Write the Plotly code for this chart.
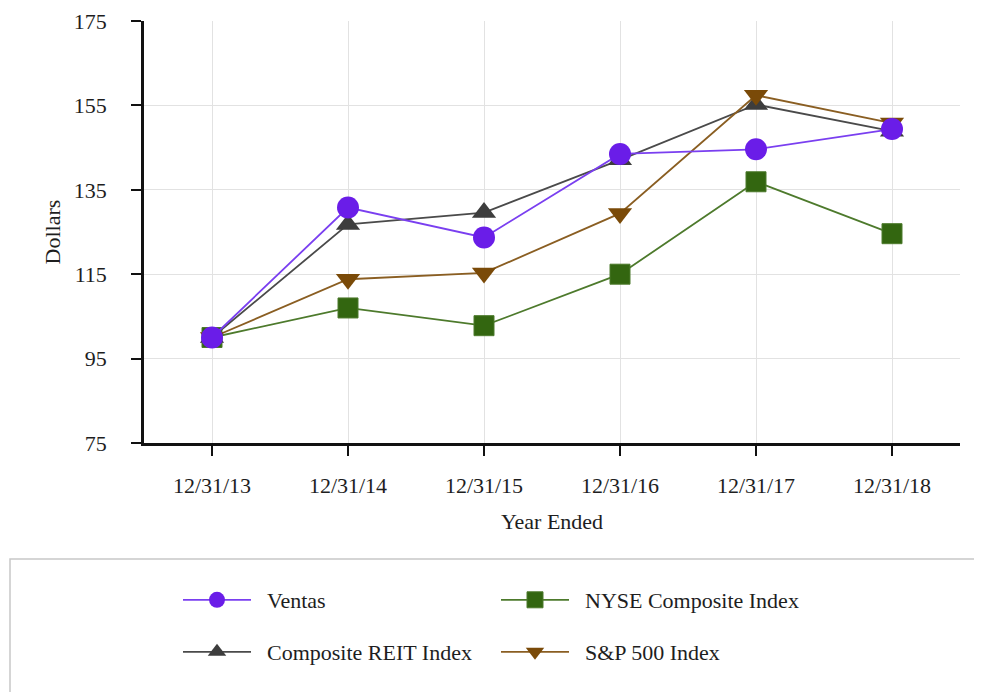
import plotly.graph_objects as go

years = ["12/31/13", "12/31/14", "12/31/15", "12/31/16", "12/31/17", "12/31/18"]
ventas = [100, 130.8, 123.7, 143.5, 144.6, 149.4]
nyse = [100, 107.0, 102.8, 115.0, 136.9, 124.6]
reit = [100, 126.8, 129.6, 142.1, 155.2, 148.9]
sp500 = [100, 113.8, 115.3, 129.4, 157.4, 150.8]
y_ticks = [75, 95, 115, 135, 155, 175]

FONT = "Liberation Serif"
FS = 22
NB = "\u00a0\u00a0"

fig = go.Figure()

fig.add_trace(go.Scatter(
    x=years, y=nyse, name=NB + "NYSE Composite Index", mode="lines+markers",
    line=dict(color="#4d7a2c", width=1.8),
    marker=dict(symbol="square", size=20, color="#336610", line=dict(color="#4d7a2c", width=1)),
    legend="legend", legendrank=2,
))
fig.add_trace(go.Scatter(
    x=years, y=reit, name=NB + "Composite REIT Index", mode="lines+markers",
    line=dict(color="#4a4a4a", width=1.8),
    marker=dict(symbol="triangle-up", size=21, color="#3d3d3d"),
    legend="legend2", legendrank=1,
))
fig.add_trace(go.Scatter(
    x=years, y=sp500, name=NB + "S&P 500 Index", mode="lines+markers",
    line=dict(color="#8a5e22", width=1.8),
    marker=dict(symbol="triangle-down", size=21, color="#7a4a08"),
    legend="legend2", legendrank=2,
))
fig.add_trace(go.Scatter(
    x=years, y=ventas, name=NB + "Ventas", mode="lines+markers",
    line=dict(color="#7a3ff0", width=1.8),
    marker=dict(symbol="circle", size=22, color="#6a1de8"),
    legend="legend", legendrank=1,
))

W, H = 982, 692
L, T = 136, 13
pw, ph = 816, 422
R, B = W - L - pw, H - T - ph

def px(x):
    return (x - L) / pw

def py(y):
    return (T + ph - y) / ph

fig.add_shape(type="rect", xref="paper", yref="paper",
              x0=px(2), x1=px(990), y0=py(551), y1=py(705),
              line=dict(color="#c8c8c8", width=1.5), fillcolor="rgba(0,0,0,0)", layer="below")

legend_common = dict(
    orientation="h", xanchor="left", yanchor="middle",
    font=dict(family=FONT, size=FS, color="#1e1e1e"),
    entrywidth=235, entrywidthmode="pixels",
    bgcolor="rgba(0,0,0,0)", itemwidth=68,
    traceorder="normal",
)

fig.update_layout(
    width=W, height=H,
    margin=dict(l=L, r=R, t=T, b=B, autoexpand=False),
    paper_bgcolor="white", plot_bgcolor="white",
    font=dict(family=FONT, size=FS, color="#1e1e1e"),
    showlegend=True,
    legend=dict(x=px(170), y=py(592), **legend_common),
    legend2=dict(x=px(170), y=py(644), **legend_common),
    xaxis=dict(
        type="category", range=[-0.5, 5.5], automargin=False,
        showline=True, linecolor="#111111", linewidth=2.5,
        showgrid=True, gridcolor="#e2e2e2", gridwidth=1,
        ticks="outside", ticklen=10, tickcolor="#111111", tickwidth=1.5,
        ticklabelstandoff=11, ticklabeloverflow="allow",
        title=dict(text="Year Ended", font=dict(family=FONT, size=FS), standoff=17),
        zeroline=False,
    ),
    yaxis=dict(
        range=[75, 175], tickvals=y_ticks, automargin=False,
        showline=True, linecolor="#111111", linewidth=2.5,
        showgrid=True, gridcolor="#e2e2e2", gridwidth=1,
        ticks="outside", ticklen=10, tickcolor="#111111", tickwidth=1.5,
        ticklabelstandoff=20, ticklabeloverflow="allow",
        title=dict(text="Dollars", font=dict(family=FONT, size=FS), standoff=8),
        zeroline=False,
    ),
)

fig.write_html("out.html")
